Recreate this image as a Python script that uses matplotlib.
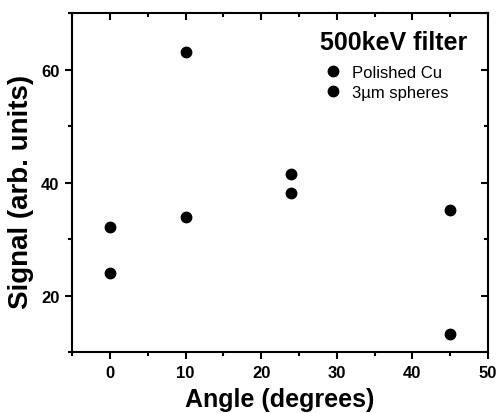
import numpy as np
import matplotlib
matplotlib.use("Agg")
import matplotlib.pyplot as plt
from matplotlib.ticker import MultipleLocator

plt.rcParams['font.family'] = ['Liberation Sans', 'DejaVu Sans']
plt.rcParams['font.weight'] = 'bold'

# data
angle = [0, 10, 24, 45]
polished_cu = [24, 34, 38.2, 13.2]
spheres = [32.1, 63.2, 41.6, 35.2]

fig = plt.figure(figsize=(4.97, 4.14), dpi=100)
ax = fig.add_axes([0.145, 0.147, 0.837, 0.819])

ax.plot(angle, polished_cu, 'o', color='black', markersize=7.5, label='Polished Cu')
ax.plot(angle, spheres, 'o', color='black', markersize=7.5, label='3\u00b5m spheres')

ax.set_xlim(-5, 50)
ax.set_ylim(10, 70)
ax.xaxis.set_major_locator(MultipleLocator(10))
ax.xaxis.set_minor_locator(MultipleLocator(5))
ax.yaxis.set_major_locator(MultipleLocator(20))
ax.yaxis.set_minor_locator(MultipleLocator(10))
ax.set_yticks([20, 40, 60])

for s in ax.spines.values():
    s.set_linewidth(1.5)

ax.tick_params(which='both', direction='out', width=1.5, labelsize=12)
ax.tick_params(which='major', length=5, pad=4)
ax.tick_params(which='minor', length=3)
ax.tick_params(which='both', top=True, right=True)
for lab in ax.get_xticklabels() + ax.get_yticklabels():
    lab.set_fontweight('bold')

# top/right ticks point inward like the original
for t in ax.xaxis.get_major_ticks() + ax.xaxis.get_minor_ticks():
    t.tick2line.set_marker(matplotlib.lines.TICKDOWN)
for t in ax.yaxis.get_major_ticks() + ax.yaxis.get_minor_ticks():
    t.tick2line.set_marker(matplotlib.lines.TICKLEFT)

ax.set_xlabel('Angle (degrees)', fontsize=18, fontweight='bold', labelpad=5)
ax.set_ylabel('Signal (arb. units)', fontsize=20, fontweight='bold')
ax.yaxis.set_label_coords(-0.092, 0.475)

ax.text(0.95, 0.95, '500keV filter', transform=ax.transAxes, ha='right', va='top',
        fontsize=18, fontweight='bold')
leg = ax.legend(loc='upper left', bbox_to_anchor=(0.608, 0.846), frameon=False,
                prop={'size': 12, 'weight': 'normal'},
                handletextpad=0.6, borderpad=0, borderaxespad=0,
                labelspacing=0.3, handlelength=1.0)

fig.savefig('out.png', dpi=100)
